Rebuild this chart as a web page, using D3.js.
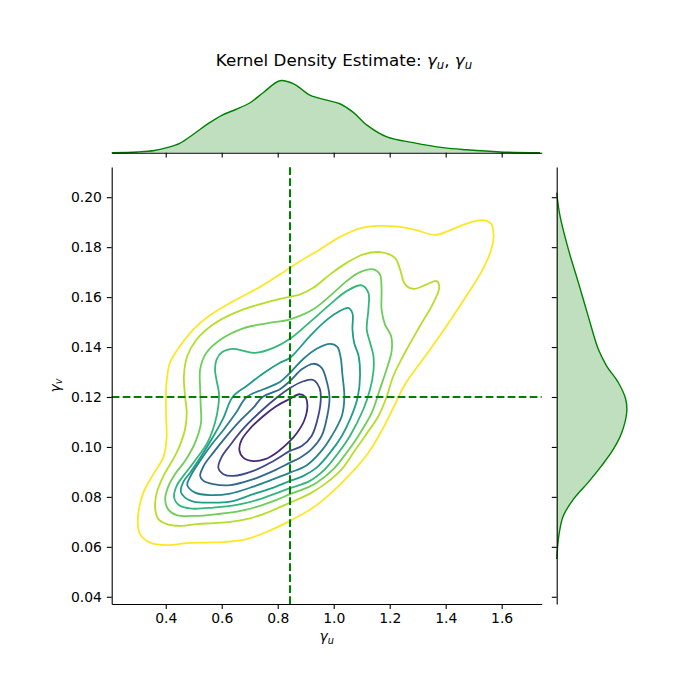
<!DOCTYPE html>
<html>
<head>
<meta charset="utf-8">
<script src="https://cdn.jsdelivr.net/npm/d3@7"></script>
<style>
  body { margin: 0; background: #fff; }
  text { font-family: "DejaVu Sans", sans-serif; }
</style>
</head>
<body>
<svg id="chart" width="679" height="698"></svg>
<script>
// tick values
const xTicks = [0.4, 0.6, 0.8, 1.0, 1.2, 1.4, 1.6];
const yTicks = [0.04, 0.06, 0.08, 0.10, 0.12, 0.14, 0.16, 0.18, 0.20];

// reference lines
const uLine = 0.844;
const vLine = 0.12;

// marginal densities (relative to the peak)
const uDensity = [[0.207,0],[0.30,0.01],[0.36,0.03],[0.404,0.07],[0.45,0.13],[0.50,0.26],[0.55,0.40],[0.60,0.52],[0.65,0.60],[0.70,0.69],[0.75,0.84],[0.808,1.0],[0.86,0.95],[0.915,0.80],[0.975,0.73],[1.022,0.68],[1.07,0.56],[1.12,0.38],[1.19,0.22],[1.284,0.14],[1.391,0.07],[1.475,0.04],[1.594,0.01],[1.737,0]];
const vDensity = [[0.2018,0],[0.1924,0.048],[0.1791,0.167],[0.1658,0.31],[0.1524,0.45],[0.1391,0.595],[0.1324,0.714],[0.1258,0.88],[0.1191,0.986],[0.1138,1.0],[0.1058,0.93],[0.0991,0.81],[0.0924,0.64],[0.0858,0.45],[0.0791,0.24],[0.0724,0.095],[0.0658,0.038],[0.0591,0.01],[0.0551,0]];

// iso-density lines, outermost first: [u, v]
const level0 = [[0.300,0.0704],[0.320,0.0817],[0.356,0.0891],[0.392,0.0960],[0.403,0.1031],[0.401,0.1137],[0.402,0.1244],[0.415,0.1337],[0.451,0.1404],[0.499,0.1471],[0.558,0.1527],[0.642,0.1584],[0.737,0.1641],[0.808,0.1691],[0.880,0.1744],[0.951,0.1791],[1.023,0.1841],[1.094,0.1875],[1.165,0.1885],[1.237,0.1881],[1.296,0.1868],[1.362,0.1849],[1.410,0.1865],[1.469,0.1892],[1.529,0.1908],[1.561,0.1895],[1.571,0.1851],[1.561,0.1784],[1.529,0.1704],[1.481,0.1617],[1.427,0.1524],[1.374,0.1437],[1.314,0.1344],[1.255,0.1251],[1.213,0.1157],[1.171,0.1064],[1.124,0.0977],[1.064,0.0897],[0.999,0.0824],[0.927,0.0757],[0.844,0.0704],[0.761,0.0660],[0.689,0.0631],[0.618,0.0620],[0.546,0.0617],[0.475,0.0615],[0.404,0.0607],[0.344,0.0617],[0.308,0.0651]];
const level1 = [[0.362,0.0757],[0.368,0.0817],[0.392,0.0884],[0.439,0.0977],[0.469,0.1071],[0.475,0.1137],[0.469,0.1204],[0.465,0.1284],[0.477,0.1364],[0.511,0.1431],[0.570,0.1491],[0.642,0.1535],[0.725,0.1568],[0.808,0.1593],[0.880,0.1611],[0.927,0.1637],[0.987,0.1691],[1.046,0.1737],[1.106,0.1771],[1.165,0.1780],[1.219,0.1757],[1.237,0.1711],[1.255,0.1651],[1.285,0.1633],[1.332,0.1651],[1.368,0.1664],[1.377,0.1637],[1.356,0.1577],[1.308,0.1484],[1.261,0.1391],[1.213,0.1284],[1.189,0.1200],[1.160,0.1124],[1.112,0.1044],[1.070,0.0977],[1.029,0.0911],[0.975,0.0857],[0.915,0.0813],[0.844,0.0777],[0.749,0.0731],[0.689,0.0711],[0.630,0.0700],[0.570,0.0695],[0.511,0.0691],[0.451,0.0684],[0.404,0.0691],[0.374,0.0711]];
const level2 = [[0.398,0.0791],[0.410,0.0844],[0.433,0.0891],[0.469,0.0944],[0.505,0.1017],[0.526,0.1097],[0.525,0.1164],[0.523,0.1231],[0.523,0.1311],[0.544,0.1375],[0.600,0.1433],[0.677,0.1475],[0.761,0.1495],[0.844,0.1511],[0.927,0.1551],[0.999,0.1617],[1.046,0.1664],[1.094,0.1700],[1.142,0.1711],[1.165,0.1691],[1.171,0.1631],[1.171,0.1551],[1.183,0.1491],[1.205,0.1444],[1.207,0.1384],[1.189,0.1311],[1.165,0.1231],[1.136,0.1137],[1.088,0.1044],[1.046,0.0977],[0.999,0.0911],[0.939,0.0857],[0.892,0.0831],[0.844,0.0811],[0.796,0.0788],[0.725,0.0760],[0.654,0.0741],[0.582,0.0731],[0.511,0.0724],[0.439,0.0727],[0.410,0.0748]];
const level3 = [[0.430,0.0797],[0.439,0.0844],[0.465,0.0887],[0.501,0.0940],[0.549,0.1017],[0.576,0.1097],[0.588,0.1164],[0.590,0.1217],[0.582,0.1264],[0.576,0.1311],[0.582,0.1351],[0.602,0.1380],[0.642,0.1393],[0.677,0.1385],[0.719,0.1377],[0.785,0.1397],[0.844,0.1433],[0.915,0.1500],[0.987,0.1571],[1.046,0.1624],[1.100,0.1647],[1.124,0.1617],[1.124,0.1551],[1.118,0.1471],[1.130,0.1417],[1.142,0.1364],[1.142,0.1304],[1.130,0.1231],[1.106,0.1151],[1.058,0.1044],[1.017,0.0977],[0.969,0.0911],[0.915,0.0864],[0.844,0.0835],[0.796,0.0815],[0.737,0.0791],[0.654,0.0768],[0.570,0.0757],[0.493,0.0753],[0.451,0.0764]];
const level4 = [[0.454,0.0820],[0.463,0.0860],[0.487,0.0897],[0.523,0.0957],[0.564,0.1031],[0.604,0.1111],[0.639,0.1200],[0.689,0.1244],[0.749,0.1295],[0.808,0.1337],[0.844,0.1357],[0.915,0.1444],[0.963,0.1497],[1.011,0.1537],[1.052,0.1557],[1.067,0.1535],[1.067,0.1471],[1.073,0.1417],[1.089,0.1364],[1.094,0.1284],[1.086,0.1200],[1.061,0.1117],[1.029,0.1044],[0.987,0.0977],[0.939,0.0917],[0.892,0.0884],[0.844,0.0864],[0.785,0.0837],[0.713,0.0811],[0.630,0.0781],[0.558,0.0777],[0.499,0.0781],[0.469,0.0797]];
const level5 = [[0.477,0.0847],[0.489,0.0884],[0.517,0.0935],[0.558,0.1001],[0.606,0.1068],[0.651,0.1137],[0.689,0.1200],[0.749,0.1231],[0.808,0.1260],[0.844,0.1297],[0.892,0.1353],[0.939,0.1393],[0.987,0.1413],[1.013,0.1401],[1.025,0.1357],[1.031,0.1291],[1.038,0.1200],[1.029,0.1124],[0.993,0.1044],[0.951,0.0977],[0.904,0.0927],[0.844,0.0897],[0.785,0.0871],[0.713,0.0841],[0.630,0.0813],[0.558,0.0807],[0.505,0.0817]];
const level6 = [[0.523,0.0884],[0.537,0.0927],[0.570,0.0977],[0.618,0.1044],[0.671,0.1111],[0.713,0.1157],[0.746,0.1200],[0.808,0.1231],[0.844,0.1264],[0.886,0.1311],[0.927,0.1333],[0.957,0.1317],[0.973,0.1271],[0.985,0.1200],[0.977,0.1124],[0.957,0.1044],[0.921,0.0991],[0.880,0.0957],[0.844,0.0937],[0.785,0.0904],[0.713,0.0871],[0.630,0.0847],[0.570,0.0851],[0.535,0.0864]];
const level7 = [[0.588,0.0917],[0.600,0.0960],[0.630,0.1007],[0.677,0.1073],[0.737,0.1140],[0.796,0.1197],[0.844,0.1236],[0.892,0.1263],[0.927,0.1268],[0.949,0.1237],[0.954,0.1200],[0.945,0.1124],[0.921,0.1044],[0.886,0.1004],[0.844,0.0984],[0.785,0.0944],[0.713,0.0904],[0.642,0.0884],[0.606,0.0891]];
const level8 = [[0.663,0.0988],[0.671,0.1028],[0.701,0.1073],[0.749,0.1124],[0.796,0.1164],[0.844,0.1193],[0.877,0.1211],[0.898,0.1201],[0.906,0.1164],[0.894,0.1104],[0.868,0.1055],[0.844,0.1024],[0.796,0.0977],[0.755,0.0951],[0.713,0.0943],[0.677,0.0957]];

const levels = [level0, level1, level2, level3, level4, level5, level6, level7, level8];

const svg = d3.select('#chart');
svg.append('rect').attr('width', 679).attr('height', 698).attr('fill', '#fff');

const x = d3.scaleLinear().domain([0.207, 1.743]).range([111.7, 541.7]);
const y = d3.scaleLinear().domain([0.0371, 0.2121]).range([604, 167]);
const yTop = d3.scaleLinear().domain([0, 1]).range([152.7, 80.7]);
const xSide = d3.scaleLinear().domain([0, 1]).range([556.7, 626.7]);

const green = '#008000';
const fontSize = 13.9;

function styleAxis(g) {
  g.attr('font-family', '"DejaVu Sans", sans-serif').attr('font-size', fontSize);
  g.selectAll('path.domain').attr('stroke', '#000').attr('stroke-width', 1.1);
  g.selectAll('.tick line').attr('stroke', '#000').attr('stroke-width', 1.1);
  g.selectAll('.tick text').attr('fill', '#000');
}

// joint contours
const contourLine = d3.line()
  .x((d) => x(d[0]))
  .y((d) => y(d[1]))
  .curve(d3.curveCatmullRomClosed.alpha(0.5));

svg.append('g')
  .selectAll('path')
  .data(levels)
  .join('path')
  .attr('d', contourLine)
  .attr('fill', 'none')
  .attr('stroke', (d, i) => d3.interpolateViridis(1 - i / 9))
  .attr('stroke-width', 1.8);

// dashed reference lines
svg.append('line')
  .attr('x1', x(uLine)).attr('x2', x(uLine))
  .attr('y1', y.range()[0]).attr('y2', y.range()[1])
  .attr('stroke', green).attr('stroke-width', 2.1).attr('stroke-dasharray', '7.7,3.3');

svg.append('line')
  .attr('x1', x.range()[0]).attr('x2', x.range()[1])
  .attr('y1', y(vLine)).attr('y2', y(vLine))
  .attr('stroke', green).attr('stroke-width', 2.1).attr('stroke-dasharray', '7.7,3.3');

// main axes
svg.append('g')
  .attr('transform', 'translate(0,604)')
  .call(d3.axisBottom(x).tickValues(xTicks).tickFormat(d3.format('.1f')).tickSize(4.9).tickSizeOuter(0).tickPadding(4.7))
  .call(styleAxis);

svg.append('g')
  .attr('transform', 'translate(111.7,0)')
  .call(d3.axisLeft(y).tickValues(yTicks).tickFormat(d3.format('.2f')).tickSize(4.9).tickSizeOuter(0).tickPadding(4.9))
  .call(styleAxis);

// top marginal
const smooth = d3.curveCatmullRom.alpha(0.5);

svg.append('path')
  .datum(uDensity)
  .attr('d', d3.area().x((d) => x(d[0])).y0(yTop(0)).y1((d) => yTop(d[1])).curve(smooth))
  .attr('fill', green).attr('fill-opacity', 0.25);

svg.append('path')
  .datum(uDensity)
  .attr('d', d3.line().x((d) => x(d[0])).y((d) => yTop(d[1])).curve(smooth))
  .attr('fill', 'none').attr('stroke', green).attr('stroke-width', 1.4);

svg.append('g')
  .attr('transform', `translate(0,${yTop(0)})`)
  .call(d3.axisBottom(x).tickValues(xTicks).tickFormat('').tickSize(4.9).tickSizeOuter(0))
  .call(styleAxis);

// right marginal
svg.append('path')
  .datum(vDensity)
  .attr('d', d3.area().y((d) => y(d[0])).x0(xSide(0)).x1((d) => xSide(d[1])).curve(smooth))
  .attr('fill', green).attr('fill-opacity', 0.25);

svg.append('path')
  .datum(vDensity)
  .attr('d', d3.line().y((d) => y(d[0])).x((d) => xSide(d[1])).curve(smooth))
  .attr('fill', 'none').attr('stroke', green).attr('stroke-width', 1.4);

svg.append('g')
  .attr('transform', `translate(${xSide(0)},0)`)
  .call(d3.axisLeft(y).tickValues(yTicks).tickFormat('').tickSize(4.9).tickSizeOuter(0))
  .call(styleAxis);

// labels
function mathLabel(sel, sub, size) {
  sel.append('tspan').attr('font-style', 'italic').text('γ');
  sel.append('tspan').attr('font-style', 'italic').attr('font-size', size * 0.7).attr('dy', size * 0.2).text(sub);
}

const xl = svg.append('text')
  .attr('x', 326.7).attr('y', 641)
  .attr('text-anchor', 'middle').attr('font-size', fontSize);
mathLabel(xl, 'u', fontSize);

const yl = svg.append('text')
  .attr('transform', 'translate(59.5,385.5) rotate(-90)')
  .attr('text-anchor', 'middle').attr('font-size', fontSize);
mathLabel(yl, 'v', fontSize);

const titleSize = 16.7;
const title = svg.append('text')
  .attr('x', 344).attr('y', 65.5)
  .attr('text-anchor', 'middle').attr('font-size', titleSize);
title.append('tspan').text('Kernel Density Estimate: ');
mathLabel(title, 'u', titleSize);
title.append('tspan').attr('dy', -titleSize * 0.2).text(', ');
mathLabel(title, 'u', titleSize);
</script>
</body>
</html>
